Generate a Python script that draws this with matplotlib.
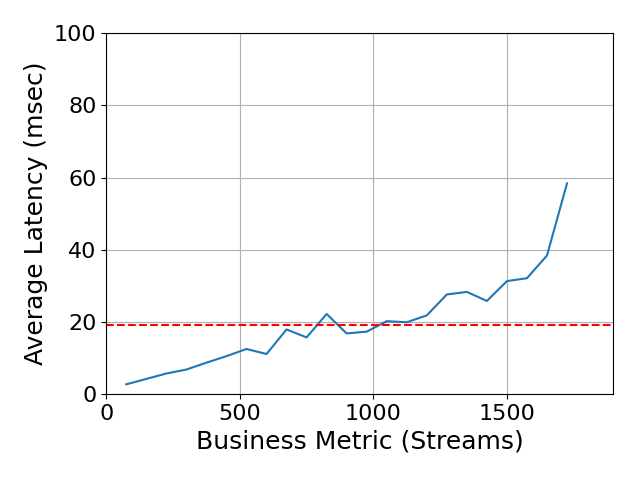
import matplotlib
matplotlib.use('Agg')
import matplotlib.pyplot as plt

# Business metric (streams) vs. average latency (msec)
streams = [75, 150, 225, 300, 375, 450, 525, 600, 675, 750, 825, 900,
           975, 1050, 1125, 1200, 1275, 1350, 1425, 1500, 1575, 1650, 1725]
latency = [2.7, 4.2, 5.7, 6.8, 8.7, 10.5, 12.5, 11.1, 17.9, 15.7, 22.2, 16.8,
           17.3, 20.2, 19.9, 21.8, 27.6, 28.3, 25.8, 31.3, 32.1, 38.4, 58.4]
threshold = 19.2

fig, ax = plt.subplots(figsize=(6.4, 4.8), dpi=100)
fig.subplots_adjust(left=0.166, right=0.958, top=0.931, bottom=0.179)

ax.plot(streams, latency, color='#1f77b4')
ax.axhline(threshold, color='red', linestyle='--')

ax.set_xlim(0, max(streams) * 1.1)
ax.set_ylim(0, 100)
ax.grid(True)
ax.tick_params(labelsize=16)
ax.set_xlabel('Business Metric (Streams)', fontsize=18)
ax.set_ylabel('Average Latency (msec)', fontsize=18)

fig.savefig('out.png')
